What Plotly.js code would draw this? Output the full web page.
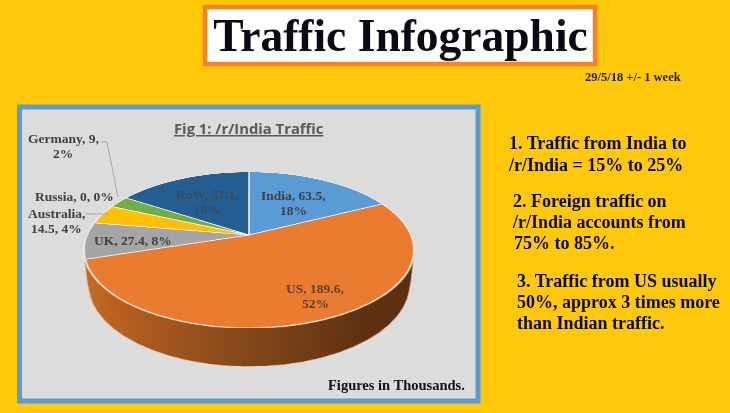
<!DOCTYPE html>
<html>
<head>
<meta charset="utf-8">
<script src="https://cdn.plot.ly/plotly-3.0.1.min.js"></script>
<style>
html,body{margin:0;padding:0;width:730px;height:413px;overflow:hidden;background:#FFC80B;}
.layer{position:absolute;}
#stage{position:absolute;left:0;top:0;width:730px;height:413px;overflow:hidden;filter:blur(0.5px);}
</style>
</head>
<body>
<div id="stage">
  <div id="back" class="layer" style="left:0;top:0;width:730px;height:413px"></div>
  <div id="pies"></div>
  <div id="front" class="layer" style="left:0;top:0;width:730px;height:413px"></div>
</div>
<script>
// ---- data ----
const categories = ["India", "US", "UK", "Australia", "Russia", "Germany", "RoW"];
const values = [63.5, 189.6, 27.4, 14.5, 0, 9, 57.1];
const percents = [18, 52, 8, 4, 0, 2, 16];
const sliceColors = ["#5B9BD5", "#E97C30", "#A5A5A5", "#FFC000", "#4472C4", "#70AD47", "#255E91"];
const chartTitle = "Traffic Infographic";
const dateNote = "29/5/18 +/- 1 week";
const figTitle = "Fig 1: /r/India Traffic";
const footNote = "Figures in Thousands.";
const sideLines = [
  "1. Traffic from India to", "/r/India = 15% to 25%",
  "2. Foreign traffic on", "/r/India accounts from", "75% to 85%.",
  "3. Traffic from US usually", "50%, approx 3 times more", "than Indian traffic."
];

// ---- styling / placement ----
const serif = '"Liberation Serif", serif';
const sidePos = [[507,143],[506,165],[511,201],[510,222],[512,243],[515,281],[515,302],[515,323]];
const labelPos = {
  India:[293,195], US:[315,288], UK:[133,240], Australia:[56,213],
  Russia:[74,196], Germany:[63,138], RoW:[207,194]
};
const labelColor = { RoW: '#3A4A5C', US: '#5A4030', UK: '#404040', India: '#3A4048' };
const labelBreak = {
  India:"India, {v},|{p}%", US:"US, {v},|{p}%", UK:"UK, {v}, {p}%",
  Australia:"Australia,|{v}, {p}%", Russia:"Russia, {v}, {p}%",
  Germany:"Germany, {v},|{p}%", RoW:"RoW, {v},|{p}%"
};
const labelLineGap = 15.5;
const R = 162, CX = 248.5, CY = 235, PERSP = 746, TILT = 62.36;

function pieChart(host, depth, isRim) {
  const d = document.createElement('div');
  d.className = 'layer';
  d.style.cssText = `left:${CX-R}px;top:${CY-R}px;width:${2*R}px;height:${2*R}px;` +
    `transform-origin:50% 50%;transform:perspective(${PERSP}px) rotateX(${TILT}deg) translateZ(${-depth}px);`;
  host.appendChild(d);
  return Plotly.newPlot(d, [{
    type: 'pie', labels: categories, values: values, sort: false, direction: 'clockwise',
    rotation: 0, textinfo: 'none', hoverinfo: 'none', showlegend: false,
    marker: { colors: sliceColors, line: { color: isRim ? 'rgba(0,0,0,0)' : '#F4F1EC', width: isRim ? 0 : 1.6 } },
    domain: { x: [0, 1], y: [0, 1] }
  }], {
    width: 2*R, height: 2*R, margin: { l: 0, r: 0, t: 0, b: 0 },
    paper_bgcolor: 'rgba(0,0,0,0)', plot_bgcolor: 'rgba(0,0,0,0)', showlegend: false
  }, { staticPlot: true, displayModeBar: false }).then(() => {
    if (!isRim) return;
    const svg = d.querySelector('svg.main-svg');
    const NS = 'http://www.w3.org/2000/svg';
    const defs = document.createElementNS(NS, 'defs');
    const g = document.createElementNS(NS, 'linearGradient');
    g.setAttribute('id', 'rim' + depth);
    g.setAttribute('x1', 0); g.setAttribute('x2', 1); g.setAttribute('y1', 0); g.setAttribute('y2', 0);
    [[0,'#C26A25'],[0.12,'#B8601F'],[0.45,'#874A1B'],[0.8,'#5E3111'],[1,'#5A2E10']].forEach(s => {
      const st = document.createElementNS(NS, 'stop');
      st.setAttribute('offset', s[0]); st.setAttribute('stop-color', s[1]);
      g.appendChild(st);
    });
    defs.appendChild(g); svg.insertBefore(defs, svg.firstChild);
    d.querySelectorAll('g.slice').forEach(s => {
      const p = s.querySelector('path.surface');
      if (!p) return;
      const isUS = s.__data__ && s.__data__[0] ? s.__data__[0].i === 1 : (s.__data__ && s.__data__.i === 1);
      p.style.fill = isUS ? `url(#rim${depth})` : '#C26A25';
      if (depth === 39) { p.style.stroke = '#EFE3D6'; p.style.strokeWidth = '1px'; p.style.strokeOpacity = 1; }
    });
  });
}

const hiddenAxis = r => ({ range: r, visible: false, fixedrange: true, showgrid: false, zeroline: false });
const base = {
  width: 730, height: 413, margin: { l: 0, r: 0, t: 0, b: 0 },
  xaxis: hiddenAxis([0, 730]), yaxis: hiddenAxis([413, 0]), showlegend: false
};
const rect = (x0, y0, x1, y1, fill, line, w) => ({
  type: 'rect', xref: 'x', yref: 'y', x0, y0, x1, y1, fillcolor: fill, line: { color: line, width: w }
});
const leader = pts => ({
  type: 'path', xref: 'x', yref: 'y',
  path: 'M' + pts.map(p => p.join(',')).join('L'), line: { color: '#A8A8A8', width: 1 }
});
const note = (text, x, y, size, color, anchor, extra) => Object.assign({
  text, x, y, xref: 'x', yref: 'y', showarrow: false, xanchor: anchor || 'center', yanchor: 'middle',
  font: { family: serif, size, color }, align: 'center'
}, extra || {});

Plotly.newPlot('back', [{ type: 'scatter', x: [], y: [] }], Object.assign({}, base, {
  paper_bgcolor: '#FFC80B', plot_bgcolor: '#FFC80B',
  shapes: [
    rect(205, 7, 595, 64, '#FFFFFF', '#F5822A', 4.5),
    rect(19.5, 107, 478, 401, '#DCDCDC', '#5B9BD5', 5)
  ]
}), { staticPlot: true, displayModeBar: false }).then(() => {
  const host = document.getElementById('pies');
  const chain = [39, 29, 19, 10].reduce((pr, h) => pr.then(() => pieChart(host, h, true)), Promise.resolve());
  return chain.then(() => pieChart(host, 0, false));
}).then(() => {
  const annotations = [];
  categories.forEach((c, i) => {
    const t = labelBreak[c].replace('{v}', values[i]).replace('{p}', percents[i]);
    t.split('|').forEach((line, k) => {
      annotations.push(note('<b>' + line + '</b>', labelPos[c][0], labelPos[c][1] + k * labelLineGap, 13.5, labelColor[c] || '#404040'));
    });
  });
  annotations.push(note('<b>' + dateNote + '</b>', 633, 77, 12.5, '#1A1A1A'));
  annotations.push(note('<b><u>' + figTitle + '</u></b>', 249, 128, 15, '#595959', 'center',
    { font: { family: '"Open Sans", sans-serif', size: 14.8, color: '#595959' } }));
  annotations.push(note('<b>' + footNote + '</b>', 396, 385, 14.5, '#111111'));
  sideLines.forEach((s, i) => annotations.push(note('<b>' + s + '</b>', sidePos[i][0], sidePos[i][1], 18, '#0A0A0A', 'left')));
  return Plotly.newPlot('front', [{ type: 'scatter', x: [], y: [] }], Object.assign({}, base, {
    paper_bgcolor: 'rgba(0,0,0,0)', plot_bgcolor: 'rgba(0,0,0,0)',
    title: { text: '<b>' + chartTitle + '</b>', font: { family: serif, size: 45.5, color: '#0A0A14' },
             x: 400.5/730, xanchor: 'center', y: 1 - 35/413, yanchor: 'middle', xref: 'paper', yref: 'paper' },
    annotations,
    shapes: [ leader([[101,142],[107,142],[118,197]]), leader([[86,214],[108,214]]) ]
  }), { staticPlot: true, displayModeBar: false });
});
</script>
</body>
</html>
